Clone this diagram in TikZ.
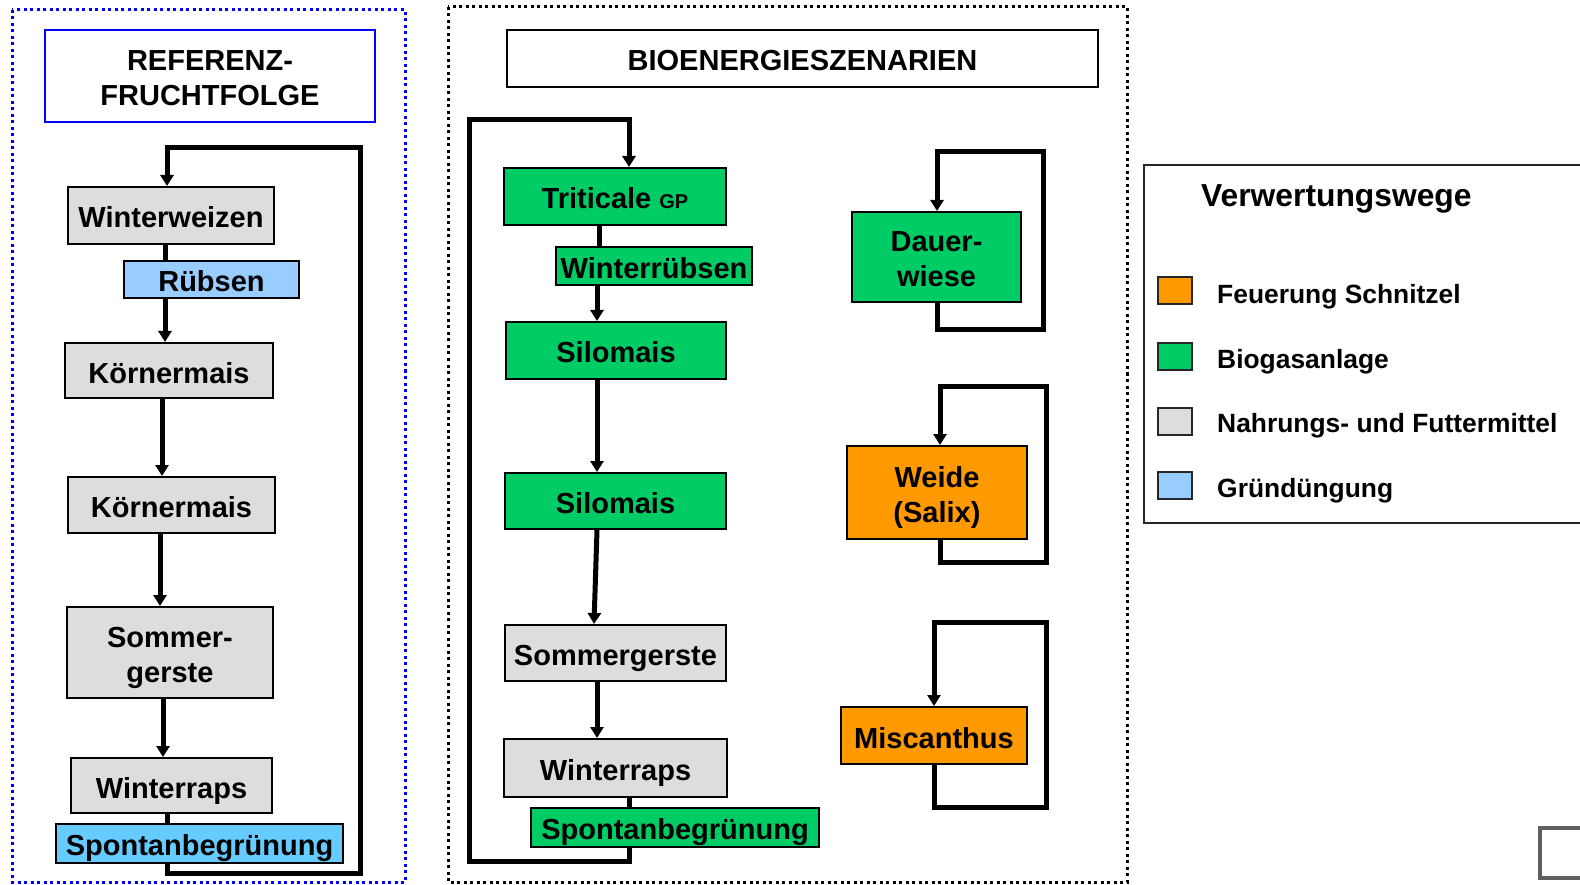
\documentclass[tikz,border=0pt]{standalone}
\usepackage{fontspec}
\setmainfont{Liberation Sans}
\usetikzlibrary{arrows.meta}
\definecolor{boxgray}{RGB}{221,221,221}
\definecolor{boxgreen}{RGB}{0,204,102}
\definecolor{boxorange}{RGB}{255,153,0}
\definecolor{boxblue}{RGB}{153,204,255}
\definecolor{boxcyan}{RGB}{102,204,255}
\definecolor{titleblue}{RGB}{0,0,255}
\definecolor{framegray}{RGB}{95,95,95}
\newcommand{\onestrut}{\rule[-6.1pt]{0pt}{37.2pt}}
\newcommand{\firstlnstrut}{\rule{0pt}{31pt}}
\newcommand{\lastlnstrut}{\rule[-6.1pt]{0pt}{6.1pt}}
\tikzset{
  cropbox/.style={draw=black, line width=2pt, inner sep=0pt, align=center,
    font=\fontsize{29}{35}\selectfont\bfseries},
  oneline/.style={execute at begin node=\onestrut, execute at end node=\onestrut},
  graybox/.style={cropbox, fill=boxgray},
  greenbox/.style={cropbox, fill=boxgreen},
  orangebox/.style={cropbox, fill=boxorange},
  bluebox/.style={cropbox, fill=boxblue},
  cyanbox/.style={cropbox, fill=boxcyan},
  headbox/.style={cropbox, fill=white},
  flow/.style={line width=5pt, line join=miter, -{Triangle[width=13pt,length=11pt]}},
  link/.style={line width=5pt},
  dotframe/.style={line width=3pt, dash pattern=on 3pt off 3.5pt},
  swatch/.style={draw=black!85, line width=2pt, minimum width=34pt, minimum height=27pt, inner sep=0pt},
  legtext/.style={anchor=base west, inner sep=0pt, font=\fontsize{26.4}{30}\selectfont\bfseries},
}
\begin{document}
\begin{tikzpicture}[x=1pt,y=-1pt]
\useasboundingbox (0,0) rectangle (1580,885);

% ---------- frames ----------
\draw[dotframe, titleblue] (12,10) rectangle (405,882);
\draw[dotframe, black] (448,7) rectangle (1127,882);

% ---------- left column: Referenz-Fruchtfolge ----------
\node[headbox, draw=titleblue, minimum width=330pt, minimum height=92pt] (reft) at (210,76) {\firstlnstrut REFERENZ-\\FRUCHTFOLGE\lastlnstrut};
\node[graybox, oneline, minimum width=206pt, minimum height=57pt] (ww) at (171,215.5) {Winterweizen};
\node[bluebox, oneline, minimum width=175pt, minimum height=37pt] (rb) at (211.5,279.5) {Rübsen};
\node[graybox, oneline, minimum width=208pt, minimum height=55pt] (km1) at (169,370.5) {Körnermais};
\node[graybox, oneline, minimum width=207pt, minimum height=56pt] (km2) at (171.5,505) {Körnermais};
\node[graybox, minimum width=206pt, minimum height=91pt] (sg) at (170,652.5) {\firstlnstrut Sommer-\\gerste\lastlnstrut};
\node[graybox, oneline, minimum width=201pt, minimum height=55pt] (wr) at (171.5,785.5) {Winterraps};
\node[cyanbox, oneline, minimum width=287pt, minimum height=39pt] (sp) at (199.5,843.5) {Spontanbegrünung};

\coordinate (xa) at (165,0);
\coordinate (xb) at (162,0);
\coordinate (xc) at (160,0);
\coordinate (xd) at (163,0);
\coordinate (xe) at (167,0);
\coordinate (lbl) at (167,873);
\coordinate (lbr) at (360,873);
\coordinate (ltr) at (360,148);
\coordinate (ltl) at (167,148);
\draw[link] (ww.south -| xa) -- (rb.north -| xa);
\draw[flow] (rb.south -| xa) -- (km1.north -| xa);
\draw[flow] (km1.south -| xb) -- (km2.north -| xb);
\draw[flow] (km2.south -| xc) -- (sg.north -| xc);
\draw[flow] (sg.south -| xd) -- (wr.north -| xd);
\draw[link] (wr.south -| xe) -- (sp.north -| xe);
\draw[flow] (sp.south -| xe) -- (lbl) -- (lbr) -- (ltr) -- (ltl) -- (ww.north -| xe);

% ---------- middle column: Bioenergieszenarien ----------
\node[headbox, oneline, minimum width=591pt, minimum height=57pt] (bio) at (802.5,58.5) {BIOENERGIESZENARIEN};
\node[greenbox, oneline, minimum width=222pt, minimum height=57pt] (tri) at (615,196.5) {Triticale {\fontsize{20}{24}\selectfont GP}};
\node[greenbox, oneline, minimum width=196pt, minimum height=38pt] (wrb) at (654,266) {Winterrübsen};
\node[greenbox, oneline, minimum width=220pt, minimum height=57pt] (sm1) at (616,350.5) {Silomais};
\node[greenbox, oneline, minimum width=221pt, minimum height=56pt] (sm2) at (615.5,501) {Silomais};
\node[graybox, oneline, minimum width=221pt, minimum height=56pt] (sgm) at (615.5,653) {Sommergerste};
\node[graybox, oneline, minimum width=223pt, minimum height=58pt] (wrm) at (615.5,768) {Winterraps};
\node[greenbox, oneline, minimum width=288pt, minimum height=39pt] (spm) at (675,827.5) {Spontanbegrünung};

\coordinate (xm1) at (599,0);
\coordinate (xm2) at (597,0);
\coordinate (xm3) at (594,0);
\coordinate (xm5) at (629,0);
\coordinate (mbr) at (629,861);
\coordinate (mbl) at (469,861);
\coordinate (mtl) at (469,120);
\coordinate (mtr) at (629,120);
\draw[link] (tri.south -| xm1) -- (wrb.north -| xm1);
\draw[flow] (wrb.south -| xm2) -- (sm1.north -| xm2);
\draw[flow] (sm1.south -| xm2) -- (sm2.north -| xm2);
\draw[flow] (sm2.south -| xm2) -- (sgm.north -| xm3);
\draw[flow] (sgm.south -| xm2) -- (wrm.north -| xm2);
\draw[link] (wrm.south -| xm5) -- (spm.north -| xm5);
\draw[flow] (spm.south -| xm5) -- (mbr) -- (mbl) -- (mtl) -- (mtr) -- (tri.north -| xm5);

% ---------- perennials ----------
\node[greenbox, minimum width=169pt, minimum height=90pt] (dw) at (936.5,257) {\firstlnstrut Dauer-\\wiese\lastlnstrut};
\node[orangebox, minimum width=180pt, minimum height=93pt] (wd) at (937,492.5) {\firstlnstrut Weide\\(Salix)\lastlnstrut};
\node[orangebox, oneline, minimum width=186pt, minimum height=57pt] (mc) at (934,735.5) {Miscanthus};

\coordinate (dwx) at (937,0);
\coordinate (dwa) at (937,330);
\coordinate (dwb) at (1043,330);
\coordinate (dwc) at (1043,152);
\coordinate (dwd) at (937,152);
\draw[flow] (dw.south -| dwx) -- (dwa) -- (dwb) -- (dwc) -- (dwd) -- (dw.north -| dwx);

\coordinate (wdx) at (940,0);
\coordinate (wda) at (940,562);
\coordinate (wdb) at (1046,562);
\coordinate (wdc) at (1046,386);
\coordinate (wdd) at (940,386);
\draw[flow] (wd.south -| wdx) -- (wda) -- (wdb) -- (wdc) -- (wdd) -- (wd.north -| wdx);

\coordinate (mcx) at (934,0);
\coordinate (mca) at (934,807);
\coordinate (mcb) at (1046,807);
\coordinate (mcc) at (1046,622);
\coordinate (mcd) at (934,622);
\draw[flow] (mc.south -| mcx) -- (mca) -- (mcb) -- (mcc) -- (mcd) -- (mc.north -| mcx);

% ---------- legend ----------
\draw[draw=black!85, line width=2pt] (1620,165) -- (1144,165) -- (1144,523) -- (1620,523);
\node[anchor=base west, inner sep=0pt, font=\fontsize{31.8}{36}\selectfont\bfseries] (legt) at (1201,207) {Verwertungswege};
\node[swatch, fill=boxorange] (s1) at (1175,290.5) {};
\node[swatch, fill=boxgreen] (s2) at (1175,356.5) {};
\node[swatch, fill=boxgray] (s3) at (1175,421.5) {};
\node[swatch, fill=boxblue] (s4) at (1175,485.5) {};
\node[legtext] (l1) at (1217,304) {Feuerung Schnitzel};
\node[legtext] (l2) at (1217,368) {Biogasanlage};
\node[legtext] (l3) at (1217,432) {Nahrungs- und Futtermittel};
\node[legtext] (l4) at (1217,497) {Gründüngung};

% ---------- partial frame at bottom right ----------
\draw[draw=framegray, line width=4pt] (1620,828) -- (1540,828) -- (1540,878) -- (1620,878);
\end{tikzpicture}
\end{document}
